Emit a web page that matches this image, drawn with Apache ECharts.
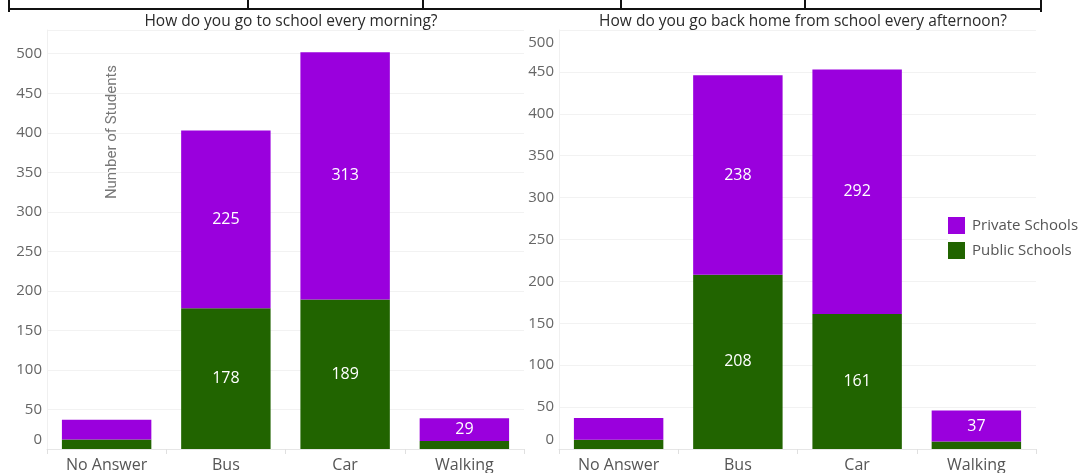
<!DOCTYPE html>
<html>
<head>
<meta charset="utf-8">
<script src="https://cdn.jsdelivr.net/npm/echarts@6/dist/echarts.min.js"></script>
<style>
  html, body { margin: 0; padding: 0; background: #fff; }
  #chart { width: 1079px; height: 473px; }
</style>
</head>
<body>
<div id="chart"></div>
<script>
// Travel modes asked about in both survey questions
const categories = ['No Answer', 'Bus', 'Car', 'Walking'];

// Morning trip to school
const morningPublic  = [12, 178, 189, 10];
const morningPrivate = [25, 225, 313, 29];

// Afternoon trip back home
const afternoonPublic  = [11, 208, 161, 9];
const afternoonPrivate = [26, 238, 292, 37];

const titles = [
  'How do you go to school every morning?',
  'How do you go back home from school every afternoon?'
];
const seriesNames = ['Private Schools', 'Public Schools'];
const yAxisName = 'Number of Students';

const PURPLE = '#9a00dd';
const GREEN = '#216400';
const FONT = '"Open Sans", "Noto Sans", sans-serif';

// segments shorter than this stay unlabelled
const LABEL_MIN = 28;

const chart = echarts.init(document.getElementById('chart'), null, { renderer: 'canvas' });

function yAxisCfg(gridIndex, max, shiftTop) {
  return {
    type: 'value',
    gridIndex,
    min: 0,
    max,
    interval: 50,
    axisLine: { show: true, lineStyle: { color: '#f0f0f0' } },
    axisTick: { show: false },
    splitLine: { lineStyle: { color: '#f2f2f2' } },
    axisLabel: {
      showMaxLabel: shiftTop,
      margin: 5,
      color: '#666',
      fontSize: 15,
      fontFamily: FONT,
      formatter: v => {
        if (v === 0) return '{lo|0}';
        if (shiftTop && v === max) return '{hi|' + v + '}';
        return String(v);
      },
      rich: {
        lo: { color: '#666', fontSize: 15, fontFamily: FONT, padding: [0, 0, 18, 0] },
        hi: { color: '#666', fontSize: 15, fontFamily: FONT, padding: [26, 0, 0, 0] }
      }
    }
  };
}

function xAxisCfg(gridIndex) {
  return {
    type: 'category',
    gridIndex,
    data: categories,
    axisLine: { show: true, lineStyle: { color: '#e6e6e6' } },
    axisTick: { show: true, length: 5, lineStyle: { color: '#e0e0e0' } },
    axisLabel: { color: '#555', fontSize: 16, fontFamily: FONT, margin: 8 }
  };
}

const segLabel = {
  show: true,
  position: 'inside',
  color: '#fff',
  fontSize: 16,
  fontFamily: FONT,
  formatter: p => (p.value >= LABEL_MIN ? String(p.value) : '')
};

function barSeries(name, data, color, idx, stack) {
  return {
    name,
    type: 'bar',
    stack,
    xAxisIndex: idx,
    yAxisIndex: idx,
    data,
    barWidth: '75%',
    itemStyle: { color },
    label: segLabel,
    emphasis: { disabled: true }
  };
}

// Thin frame segments along the top edge
const topFrame = [
  { type: 'line', shape: { x1: 9, y1: 9, x2: 1041, y2: 9 } },
  { type: 'line', shape: { x1: 9, y1: 0, x2: 9, y2: 12 } },
  { type: 'line', shape: { x1: 248, y1: 0, x2: 248, y2: 9 } },
  { type: 'line', shape: { x1: 423, y1: 0, x2: 423, y2: 9 } },
  { type: 'line', shape: { x1: 621, y1: 0, x2: 621, y2: 9 } },
  { type: 'line', shape: { x1: 805, y1: 0, x2: 805, y2: 9 } },
  { type: 'line', shape: { x1: 1041, y1: 0, x2: 1041, y2: 12 } }
].map(g => Object.assign(g, { style: { stroke: '#111', lineWidth: 2 }, silent: true }));

const titleStyle = { fontSize: 15.5, fontWeight: 500, color: '#2a2a2a', fontFamily: FONT };

chart.setOption({
  animation: false,
  backgroundColor: '#fff',
  title: [
    { text: titles[0], left: 286, top: 9, textAlign: 'center', textStyle: titleStyle },
    { text: titles[1], left: 798, top: 9, textAlign: 'center', textStyle: titleStyle }
  ],
  legend: {
    orient: 'vertical',
    left: 948,
    top: 217,
    data: seriesNames,
    icon: 'rect',
    itemWidth: 17,
    itemHeight: 17,
    itemGap: 8,
    padding: [0, 0, 0, 0],
    backgroundColor: '#fff',
    textStyle: { color: '#555', fontSize: 15, fontFamily: FONT, padding: [0, 0, 0, 2] }
  },
  grid: [
    { left: 47, top: 30, width: 477, height: 420 },
    { left: 559, top: 30, width: 477, height: 421 }
  ],
  xAxis: [xAxisCfg(0), xAxisCfg(1)],
  yAxis: [yAxisCfg(0, 530, false), yAxisCfg(1, 500, true)],
  series: [
    barSeries(seriesNames[1], morningPublic, GREEN, 0, 'morning'),
    barSeries(seriesNames[0], morningPrivate, PURPLE, 0, 'morning'),
    barSeries(seriesNames[1], afternoonPublic, GREEN, 1, 'afternoon'),
    barSeries(seriesNames[0], afternoonPrivate, PURPLE, 1, 'afternoon')
  ],
  graphic: topFrame.concat([
    {
      type: 'text',
      x: 112,
      y: 132,
      rotation: Math.PI / 2,
      style: {
        text: yAxisName,
        fill: '#777',
        fontSize: 15,
        fontFamily: 'Roboto, "Open Sans", sans-serif',
        align: 'center',
        verticalAlign: 'middle'
      },
      silent: true
    }
  ])
});
</script>
</body>
</html>
